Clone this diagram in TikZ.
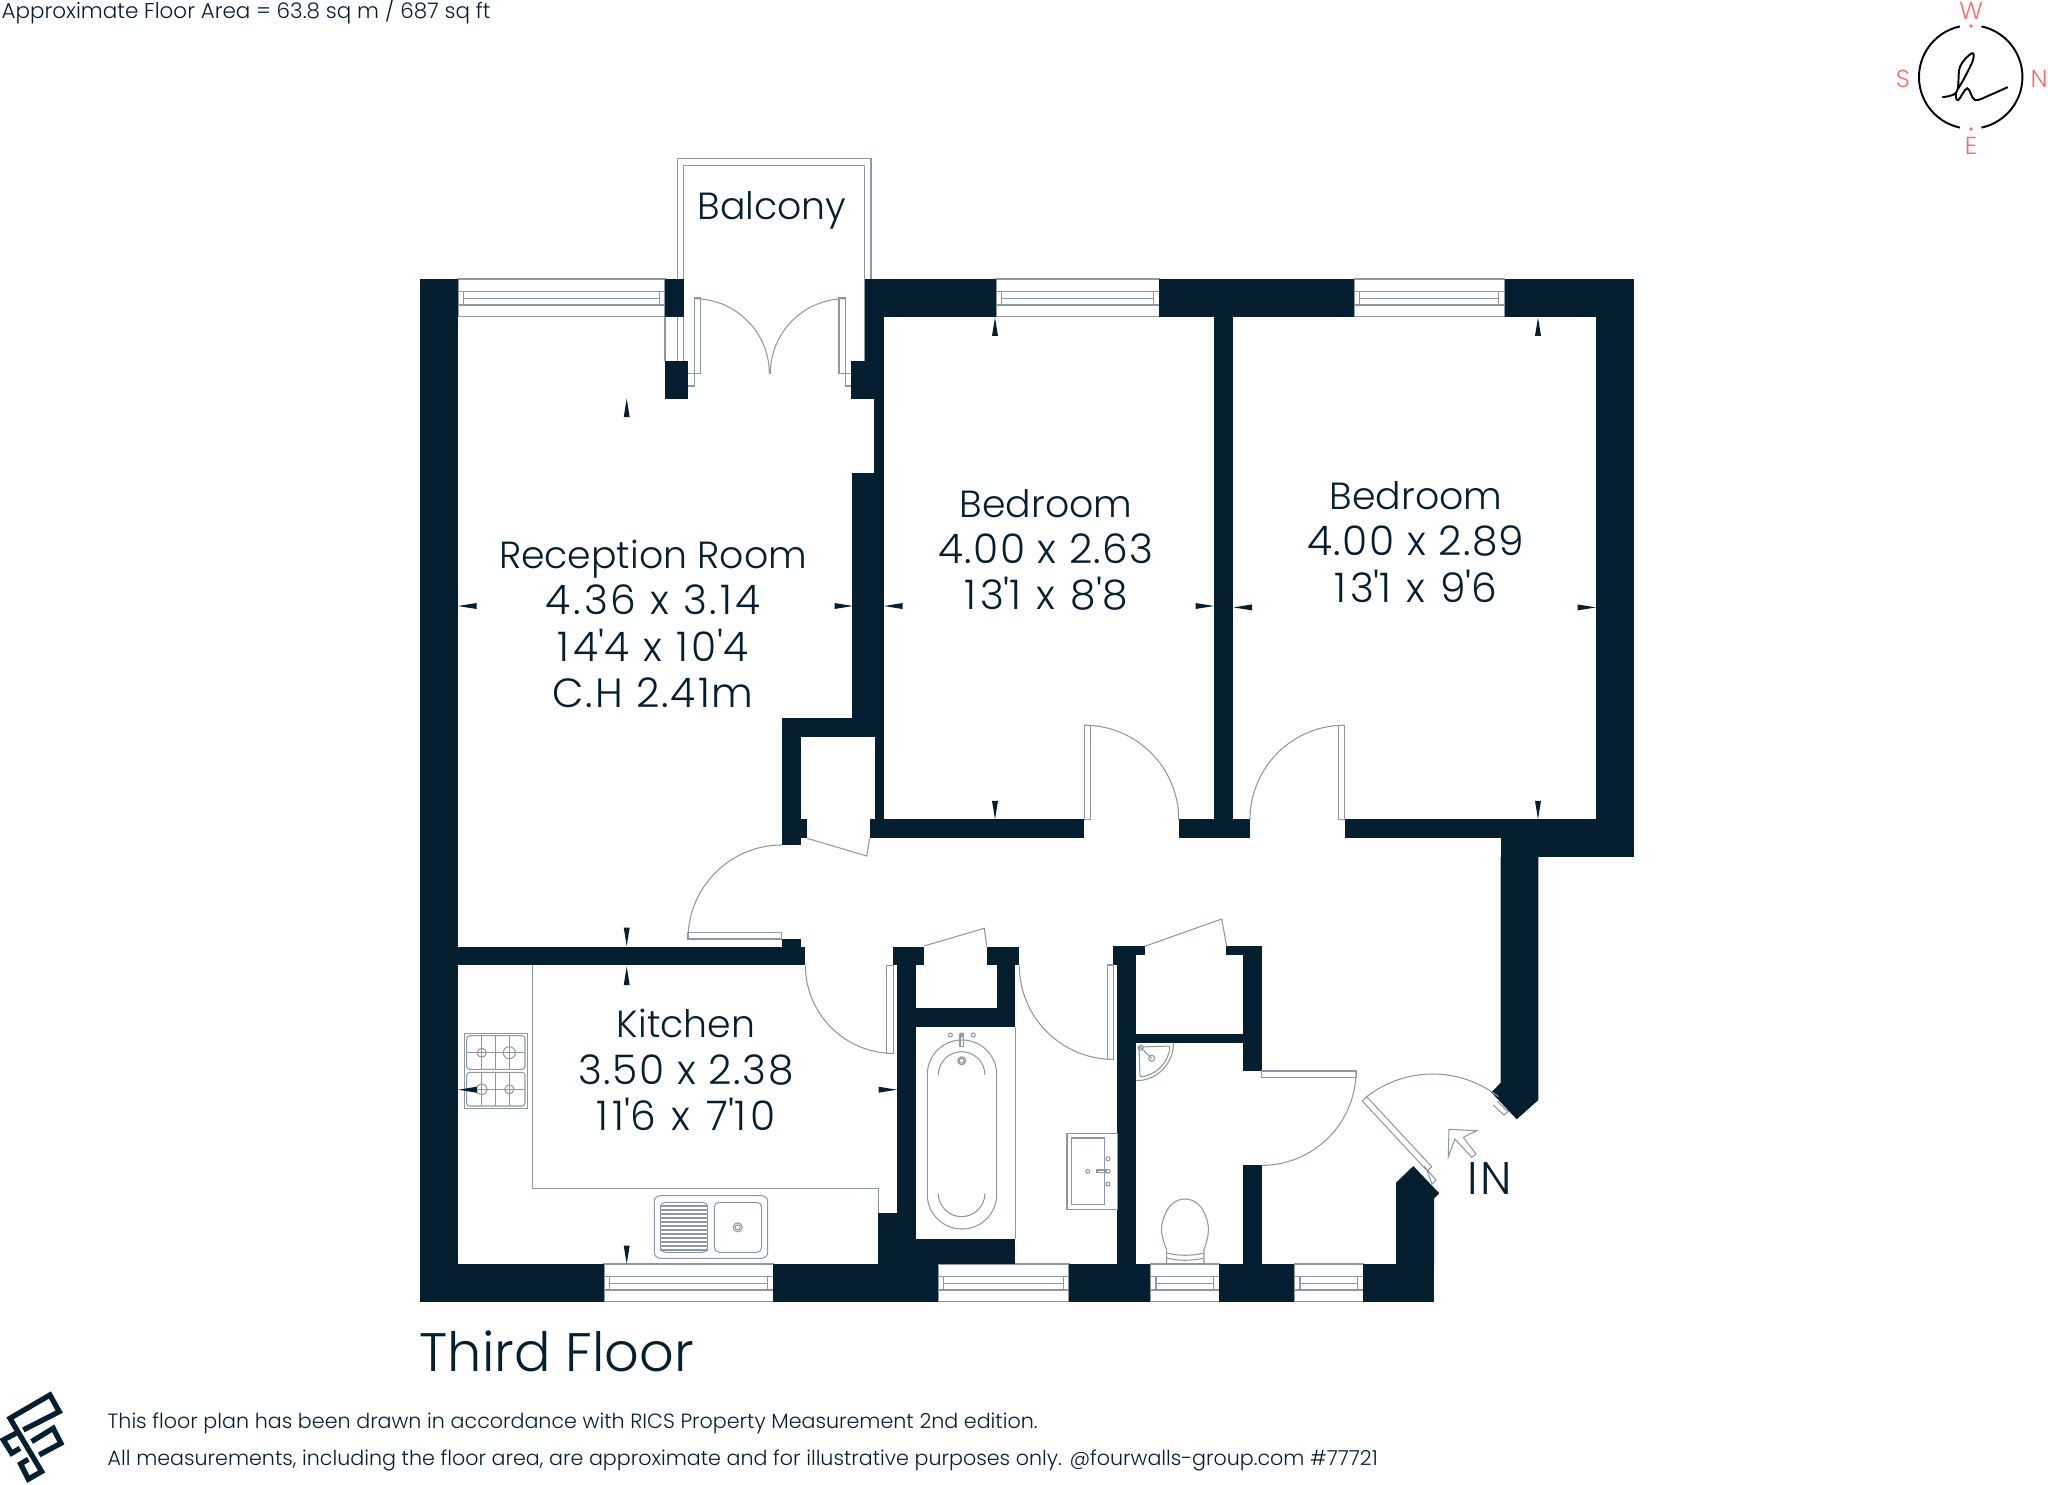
\documentclass[tikz,border=0pt]{standalone}
\usepackage{fontspec}
\setmainfont{Poppins}[UprightFont=* Light]
\definecolor{ink}{HTML}{051E30}
\definecolor{fineline}{HTML}{8C98A2}
\definecolor{salmon}{HTML}{FF6B6B}
\newcommand{\dims}[2]{{\fontsize{11.6}{13.2}\selectfont\addfontfeature{LetterSpace=#1}#2}}
\newcommand{\ft}{\textquotesingle}

\begin{document}
\begin{tikzpicture}[x=0.01cm,y=-0.01cm]
  \tikzstyle{wall}=[fill=ink]
  \tikzstyle{fine}=[draw=fineline,line width=0.3pt]
  \tikzstyle{tick}=[fill=ink]
  \tikzstyle{room}=[text=ink,align=center,inner sep=0pt,font=\fontsize{10.75}{13.2}\selectfont]
  \tikzstyle{small}=[text=ink,inner sep=0pt,anchor=base west,font=\fontsize{5.87}{7}\selectfont]
  \tikzstyle{compass}=[text=salmon,inner sep=0pt,font=\fontsize{7}{8}\selectfont]
  \useasboundingbox (0,0) rectangle (2048,1484);

  % balcony
  \draw[fine] (677.7,361) -- (677.7,158.7) -- (871,158.7) -- (871,279);
  \draw[fine] (683.7,361) -- (683.7,165.3) -- (864.7,165.3) -- (864.7,361);
  \draw[fine] (665,317) -- (665,361);

  % windows
  \foreach \xa/\xb/\ya in {458/665/279,996/1159.3/279,1354.2/1504.5/279,604/773.3/1264,938/1069/1264,1150.3/1219.3/1264,1294.3/1363.3/1264} {
    \draw[fine] (\xa,\ya) rectangle (\xb,\ya+37.7);
    \draw[fine] (\xa,\ya+12.7) -- (\xb,\ya+12.7);
    \draw[fine] (\xa,\ya+26) -- (\xb,\ya+26);
    \draw[fine] (\xa+5.7,\ya+12.7) rectangle (\xb-5.7,\ya+26);
    \draw[fine] (\xa+5.7,\ya+19.3) -- (\xb-5.7,\ya+19.3);
  }

  % walls
  \fill[wall] (420,279) rectangle (457.7,1301.7);
  \fill[wall] (420,1264) rectangle (604,1301.7);
  \fill[wall] (773.3,1264) rectangle (938,1301.7);
  \fill[wall] (1069,1264) rectangle (1150.3,1301.7);
  \fill[wall] (1219.3,1264) rectangle (1294.3,1301.7);
  \fill[wall] (1363.3,1264) rectangle (1434,1301.7);
  \fill[wall] (420,279) rectangle (458,317);
  \fill[wall] (665,279) rectangle (684,317);
  \fill[wall] (665,361) rectangle (688,398.7);
  \fill[wall] (864.7,279) rectangle (996,317);
  \fill[wall] (1159.3,279) rectangle (1354.2,317);
  \fill[wall] (1504.5,279) rectangle (1634,317);
  \fill[wall] (864.7,317) rectangle (883.7,361);
  \fill[wall] (851.3,361) rectangle (883.7,398.7);
  \fill[wall] (874.3,398.7) rectangle (883.7,473.3);
  \fill[wall] (852,473.3) rectangle (883.7,717.7);
  \fill[wall] (781.8,717.7) rectangle (883.7,736.7);
  \fill[wall] (781.8,717.7) rectangle (800.7,844.7);
  \fill[wall] (800.7,819.3) rectangle (807.1,838.3);
  \fill[wall] (874.6,736.7) rectangle (883.7,819.3);
  \fill[wall] (869.6,819.3) rectangle (1084.2,838.3);
  \fill[wall] (1214,317) rectangle (1233,819.3);
  \fill[wall] (1178.7,819.3) rectangle (1250,838.3);
  \fill[wall] (1344.5,819.3) rectangle (1634,838.3);
  \fill[wall] (1596,279) rectangle (1634,857.2);
  \fill[wall] (1500.6,838) rectangle (1634,857.2);
  \fill[wall] (1500.7,857) -- (1538.3,857) -- (1538.3,1100) -- (1516.7,1119.3) -- (1491.3,1092.3) -- (1500.7,1082.7) -- cycle;
  \fill[wall] (457.7,946.7) rectangle (805.4,965.3);
  \fill[wall] (781.8,939) rectangle (800.7,946.7);
  \fill[wall] (892.9,946.7) rectangle (923.9,965.3);
  \fill[wall] (986.8,946.7) rectangle (1018.9,965.3);
  \fill[wall] (897.4,965.3) rectangle (916.4,1264);
  \fill[wall] (996.8,965.3) rectangle (1015.4,1026.7);
  \fill[wall] (897.4,1008) rectangle (1015.4,1026.7);
  \fill[wall] (878.3,1213.3) rectangle (916.4,1264);
  \fill[wall] (878.3,1239) rectangle (1015.4,1264);
  \fill[wall] (1113.3,946.3) rectangle (1136,965.3);
  \fill[wall] (1136,946.3) rectangle (1144.7,955);
  \fill[wall] (1117.3,965) rectangle (1136,1264);
  \fill[wall] (1226.3,946.3) rectangle (1261.7,955);
  \fill[wall] (1242.7,946.3) rectangle (1261.7,1071);
  \fill[wall] (1117.3,1034.3) rectangle (1261.7,1043.3);
  \fill[wall] (1242.7,1165) rectangle (1261.7,1264);
  \fill[wall] (1396,1264) -- (1396,1182.7) -- (1413.3,1166) -- (1439.3,1193.3) -- (1434,1198.7) -- (1434,1264) -- cycle;

  % balcony doors
  \draw[fine] (694.3,298) rectangle (700.7,373.7);
  \draw[fine] (688,373.7) -- (694.3,373.7) -- (694.3,386) -- (688,386);
  \draw[fine] (694.3,298.7) arc[start angle=90,end angle=0,radius=0.75cm];
  \draw[fine] (839,298) rectangle (845.3,373.7);
  \draw[fine] (851.3,373.7) -- (845.3,373.7) -- (845.3,386) -- (851.3,386);
  \draw[fine] (845.3,298.7) arc[start angle=90,end angle=180,radius=0.75cm];

  % bedroom doors
  \draw[fine] (1084.2,725.2) rectangle (1090.5,819.3);
  \draw[fine] (1084.2,725.2) arc[start angle=90,end angle=0,radius=0.945cm];
  \draw[fine] (1338.7,725.2) rectangle (1344.5,819.3);
  \draw[fine] (1344.5,725.2) arc[start angle=90,end angle=180,radius=0.945cm];

  % reception and cupboard doors
  \draw[fine] (688,932.5) rectangle (781.8,939);
  \draw[fine] (688,939) arc[start angle=180,end angle=90,radius=0.94cm];
  \draw[fine] (807.1,838.3) -- (866.8,856) -- (869.6,838.3);
  \draw[fine] (923.9,946) -- (984.3,928.3) -- (986.8,946.7);
  \draw[fine] (1144.7,946.3) -- (1221.7,919) -- (1226.7,946.3);

  % kitchen, bathroom and wc doors
  \draw[fine] (886.8,965.3) rectangle (893.2,1053.3);
  \draw[fine] (805.4,965.3) arc[start angle=180,end angle=270,radius=0.88cm];
  \draw[fine] (1107.3,965) rectangle (1113.3,1059.7);
  \draw[fine] (1019.3,965.3) arc[start angle=180,end angle=270,radius=0.94cm];
  \draw[fine] (1261.7,1071) rectangle (1356.3,1077.3);
  \draw[fine] (1356,1071) arc[start angle=0,end angle=-90,radius=0.943cm];

  % entrance door
  \draw[fine] (1362.3,1101) -- (1366.7,1096.7) -- (1431.7,1166.7) -- (1427.3,1171) -- cycle;
  \draw[fine] (1427.3,1171) -- (1432,1184) -- (1436,1180) -- (1424,1166);
  \draw[fine] (1497,1101) -- (1508,1111.7) -- (1504,1115) -- (1493.3,1105);
  \draw[fine] (1366.7,1096.7) arc[start angle=128,end angle=52,radius=1.07cm];
  \draw[fine] (1449,1129.3) -- (1476.7,1130.7) -- (1463.3,1137.3) -- (1476,1154) -- (1471.7,1157.3) -- (1455,1139) -- (1448.3,1156.7) -- cycle;

  % kitchen fittings
  \draw[fine] (532.7,965.3) -- (532.7,1188.7) -- (878.3,1188.7) -- (878.3,1213.3);
  \draw[fine] (464.3,1033.3) rectangle (527.7,1108.3);
  \draw[fine,rounded corners=0.03cm] (466.7,1035.7) rectangle (525,1069.3);
  \draw[fine,rounded corners=0.03cm] (466.7,1072.3) rectangle (525,1106);
  \foreach \y in {1052.7,1089.3} {
    \draw[fine] (466.7,\y) -- (525,\y);
  }
  \foreach \x in {481.7,495.7,509.3} {
    \draw[fine] (\x,1035.7) -- (\x,1069.3);
    \draw[fine] (\x,1072.3) -- (\x,1106);
  }
  \draw[fine] (481.7,1052.7) circle (0.045cm);
  \draw[fine] (509.3,1052.7) circle (0.06cm);
  \draw[fine] (481.7,1089.3) circle (0.055cm);
  \draw[fine] (509.3,1089.3) circle (0.045cm);
  \draw[fine,rounded corners=0.06cm] (654.3,1195.7) rectangle (767.7,1258.3);
  \draw[fine,rounded corners=0.05cm] (660.3,1202.3) rectangle (707.7,1252.3);
  \draw[fine,rounded corners=0.05cm] (714.3,1202.3) rectangle (761.7,1252.3);
  \foreach \y in {1206,1210,...,1250} {
    \draw[fine] (660.3,\y) -- (707.7,\y);
  }
  \draw[fine] (737.7,1227.3) circle (0.045cm);
  \draw[fine] (737.7,1227.3) circle (0.025cm);

  % bathroom fittings
  \draw[fine] (1015.3,1026.7) -- (1015.3,1239);
  \draw[fine,rounded corners=0.345cm] (927.3,1040) rectangle (996.7,1229);
  \draw[fine] (938.3,1075) arc[start angle=180,end angle=0,radius=0.233cm];
  \draw[fine] (938.3,1193.3) arc[start angle=180,end angle=360,radius=0.233cm];
  \foreach \x in {950.3,961.7,973.3} {
    \draw[fine] (\x,1035) circle (0.02cm);
  }
  \draw[fine] (960,1035) rectangle (963.4,1046.7);
  \draw[fine] (961.7,1060.7) circle (0.04cm);
  \draw[fine] (961.7,1060.7) circle (0.025cm);
  \draw[fine] (1067,1133.3) rectangle (1117.3,1209.3);
  \draw[fine] (1071.3,1138) rectangle (1104.7,1204.7);
  \foreach \y in {1158.7,1171.3,1184} {
    \draw[fine] (1108,\y) circle (0.02cm);
  }
  \draw[fine] (1087.7,1171.3) circle (0.02cm);
  \draw[fine] (1097,1170) rectangle (1106,1172.6);

  % wc fittings
  \draw[fine] (1136,1080.7) arc[start angle=-90,end angle=0,radius=0.374cm];
  \draw[fine,rounded corners=0.02cm] (1139,1047) -- (1170,1046) .. controls (1168,1064) and (1155,1075) .. (1140,1077) -- cycle;
  \draw[fine] (1140.7,1047.7) -- (1151.7,1058.3);
  \draw[fine] (1140.7,1047.7) circle (0.025cm);
  \draw[fine] (1151.7,1058.3) circle (0.03cm);
  \draw[fine] (1166.7,1264) -- (1166.7,1250) .. controls (1162,1238) and (1160,1230) .. (1163,1220) .. controls (1167,1206) and (1175,1199) .. (1185,1199) .. controls (1195,1199) and (1203,1206) .. (1207,1220) .. controls (1210,1230) and (1208,1238) .. (1204,1250) -- (1204,1264);
  \draw[fine] (1166.7,1253) .. controls (1178,1256) and (1192,1256) .. (1204,1253);
  \draw[fine] (1166.7,1258) .. controls (1178,1261) and (1192,1261) .. (1204,1258);

  % measuring ticks
  \foreach \x/\y in {626.7/398.7,995/317.4,1538/317.4,626.7/966.7} {
    \fill[tick] (\x,\y) -- (\x+3,\y+18.5) -- (\x-3,\y+18.5) -- cycle;
  }
  \foreach \x/\y in {995/819.3,1538/819.3,626.7/946,626.7/1264} {
    \fill[tick] (\x,\y) -- (\x+3,\y-18.5) -- (\x-3,\y-18.5) -- cycle;
  }
  \foreach \x/\y in {458/606,884/606,1233.5/607.4,458.3/1089.7} {
    \fill[tick] (\x,\y) -- (\x+18.5,\y-3) -- (\x+18.5,\y+3) -- cycle;
  }
  \foreach \x/\y in {853/606,1214/606,1596/607.4,897/1089.7} {
    \fill[tick] (\x,\y) -- (\x-18.5,\y-3) -- (\x-18.5,\y+3) -- cycle;
  }

  % labels
  \node[room] (balcony) at (772,210) {Balcony};
  \node[room] (reception) at (653,624) {Reception Room\\\dims{7}{4.36 x 3.14}\\\dims{8}{14\ft4 x 10\ft4}\\\dims{5}{C.H 2.41m}};
  \node[room] (bedroomA) at (1046,550) {Bedroom\\\dims{3.5}{4.00 x 2.63}\\\dims{9.5}{13\ft1 x 8\ft8}};
  \node[room] (bedroomB) at (1416,542) {Bedroom\\\dims{3.5}{4.00 x 2.89}\\\dims{9}{13\ft1 x 9\ft6}};
  \node[room] (kitchen) at (686,1070) {Kitchen\\\dims{4}{3.50 x 2.38}\\\dims{11}{11\ft6 x 7\ft10}};
  \node[room,anchor=base west,font=\fontsize{13}{13.2}\selectfont] (entrance) at (1467,1194) {\addfontfeature{LetterSpace=5}IN};
  \node[text=ink,inner sep=0pt,anchor=base west,font=\fontsize{15.4}{18}\selectfont] (floorname) at (419,1371) {Third Floor};
  \node[small,font=\fontsize{6.1}{7}\selectfont] (area) at (1,18) {Approximate Floor Area = 63.8 sq m / 687 sq ft};
  \node[small] (noteA) at (107,1428) {This floor plan has been drawn in accordance with RICS Property Measurement 2nd edition.};
  \node[small] (noteB) at (107,1465) {All measurements, including the floor area, are approximate and for illustrative purposes only. @fourwalls-group.com \#77721};

  % compass
  \node[compass] (west) at (1971,11) {W};
  \node[compass] (east) at (1971,146) {E};
  \node[compass] (south) at (1903,79) {S};
  \node[compass] (north) at (2039,79) {N};
  \fill[salmon] (1971,26) circle (0.018cm);
  \fill[salmon] (1971,129) circle (0.018cm);
  \draw[black,line width=0.55pt] (1970.7,77) ++(78:0.517cm) arc[start angle=78,end angle=-78,radius=0.517cm];
  \draw[black,line width=0.55pt] (1970.7,77) ++(102:0.517cm) arc[start angle=102,end angle=258,radius=0.517cm];
  \draw[black,line width=0.55pt,line cap=round] plot[smooth,tension=0.6] coordinates {(1942.7,97) (1956.7,91.7) (1960,66.7) (1971.7,53.3) (1973,60) (1963.3,80) (1956,93) (1958.3,100) (1967.3,88.3) (1975,100) (1990,95) (2007.3,87.3)};

  % logo
  \begin{scope}[shift={(0,1380)},x=0.00333cm,y=-0.00333cm]
    \draw[ink,line width=1.5pt] (70,150) -- (178,95) -- (150,45) -- (30,115) -- (125,275) -- (85,298) -- (62,252) -- (85,238);
    \draw[ink,line width=1.5pt] (95,185) -- (160,145) -- (183,190) -- (118,225);
    \draw[ink,line width=1.5pt] (48,160) -- (10,180) -- (35,220) -- (60,205);
  \end{scope}
\end{tikzpicture}
\end{document}
